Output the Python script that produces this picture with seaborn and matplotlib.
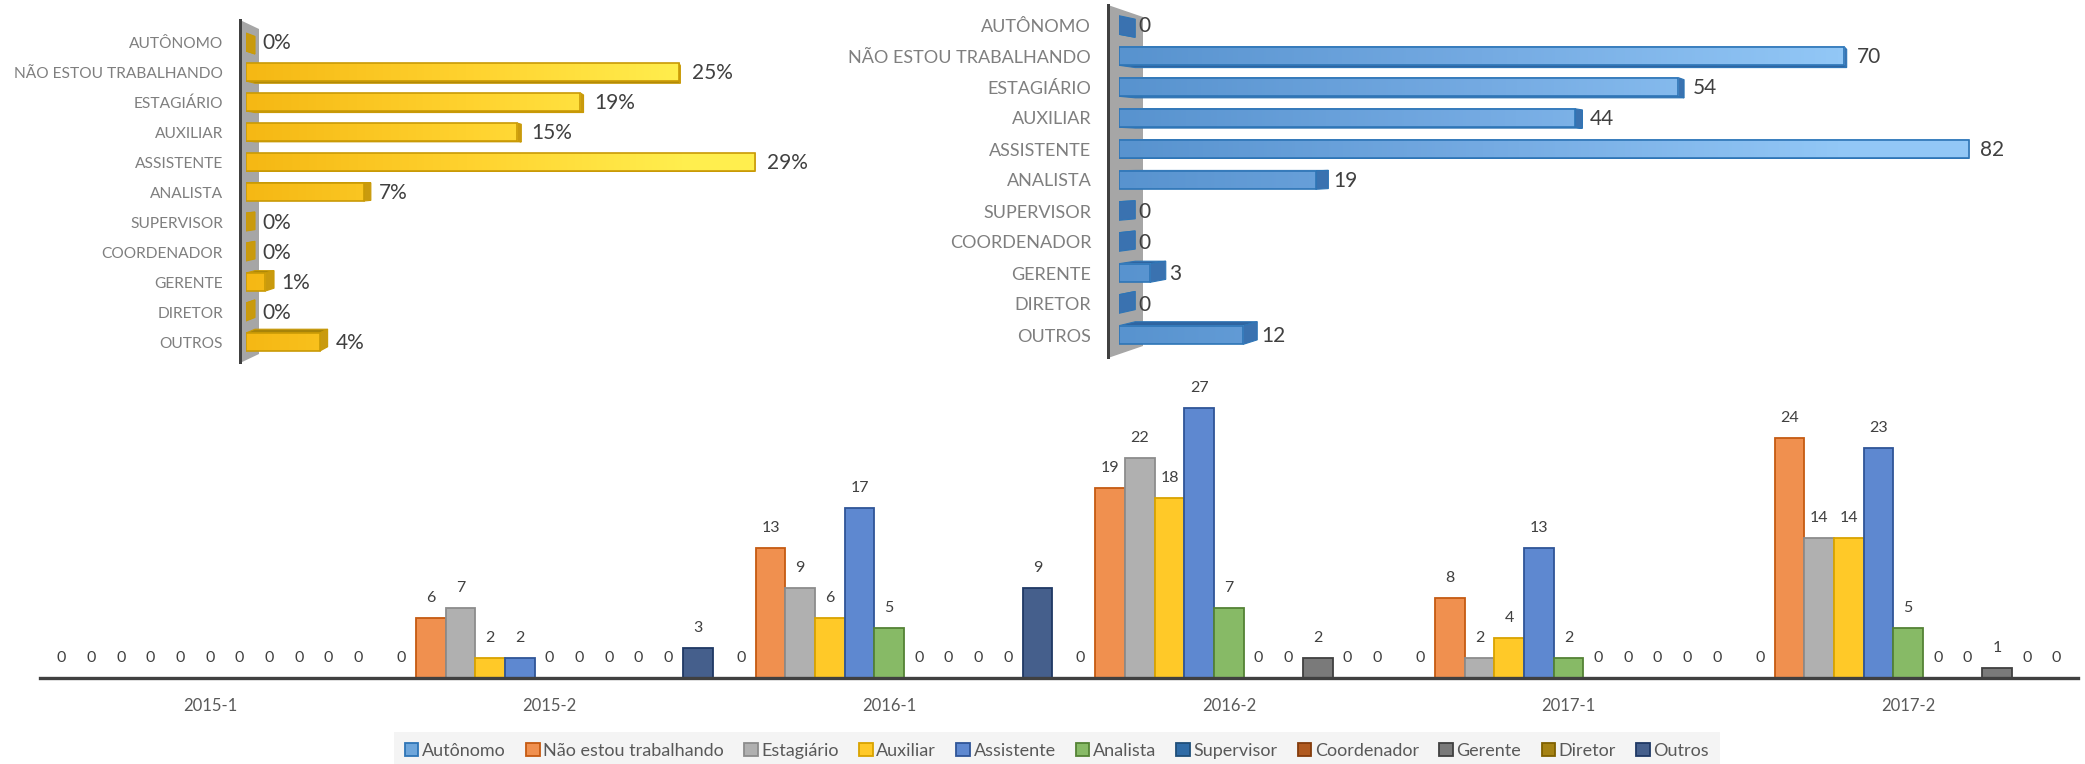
import numpy as np
import pandas as pd
import matplotlib
matplotlib.use("Agg")
import matplotlib.pyplot as plt
import seaborn as sns
from matplotlib.patches import Polygon, Patch
from matplotlib.colors import LinearSegmentedColormap, Normalize

# ---------------- data ----------------
categories_top = ['AUTÔNOMO', 'NÃO ESTOU TRABALHANDO', 'ESTAGIÁRIO', 'AUXILIAR',
                  'ASSISTENTE', 'ANALISTA', 'SUPERVISOR', 'COORDENADOR',
                  'GERENTE', 'DIRETOR', 'OUTROS']
pct_values = [0, 24.6, 19.0, 15.4, 28.9, 6.7, 0, 0, 1.1, 0, 4.2]
count_values = [0, 70, 54, 44, 82, 19, 0, 0, 3, 0, 12]

periods = ['2015-1', '2015-2', '2016-1', '2016-2', '2017-1', '2017-2']
legend_categories = ['Autônomo', 'Não estou trabalhando', 'Estagiário', 'Auxiliar',
                     'Assistente', 'Analista', 'Supervisor', 'Coordenador',
                     'Gerente', 'Diretor', 'Outros']
autonomo = [0, 0, 0, 0, 0, 0]
nao_trabalhando = [0, 6, 13, 19, 8, 24]
estagiario = [0, 7, 9, 22, 2, 14]
auxiliar = [0, 2, 6, 18, 4, 14]
assistente = [0, 2, 17, 27, 13, 23]
analista = [0, 0, 5, 7, 2, 5]
supervisor = [0, 0, 0, 0, 0, 0]
coordenador = [0, 0, 0, 0, 0, 0]
gerente = [0, 0, 0, 2, 0, 1]
diretor = [0, 0, 0, 0, 0, 0]
outros = [0, 3, 9, 0, 0, 0]

fills = ['#6EA6DB', '#F0904F', '#B0B0B0', '#FFC928', '#5E88D0', '#87BA66',
         '#2F6BA6', '#B05A20', '#7A7A7A', '#A58213', '#455F8C']
edges = ['#2E75B6', '#C55A11', '#8C8C8C', '#D9A300', '#2F5597', '#548235',
         '#1F4E79', '#843C0C', '#404040', '#7F6000', '#1F3864']

# ---------------- style ----------------
sns.set_style("white")
plt.rcParams['font.family'] = ['Lato', 'DejaVu Sans']

W, H = 2085, 764
fig = plt.figure(figsize=(W / 100, H / 100), dpi=100)
fig.patch.set_facecolor('white')


def px_axes(left, top, width, height):
    return fig.add_axes([left / W, 1 - (top + height) / H, width / W, height / H])


def fig_poly(pts, **kw):
    p = Polygon([(x / W, 1 - y / H) for x, y in pts], closed=True,
                transform=fig.transFigure, **kw)
    fig.add_artist(p)


def draw_3d(ax, values, xmax, labels, grad_cmap, norm_max, edge, side_c, hz_c,
            vp, kx, ky, cat_fs, cat_pad, label_gap, long_extra):
    df = pd.DataFrame({'cat': categories_top, 'val': values})
    sns.barplot(data=df, x='val', y='cat', orient='h', ax=ax, width=0.6,
                color='#ffffff', errorbar=None, saturation=1)
    ax.set_xlim(0, xmax)
    ax.set_ylim(len(categories_top) - 0.5, -0.5)
    ax.patch.set_visible(False)
    T = ax.transData
    Ti = T.inverted()
    vxd, vyd = vp[0], H - vp[1]
    norm = Normalize(0, norm_max)
    cont = ax.containers[0]
    x_origin = T.transform((0, 0))[0]
    x_far = T.transform((xmax, 0))[0]
    for p, lab in zip(cont.patches, labels):
        x0, y0, w, h = p.get_x(), p.get_y(), p.get_width(), p.get_height()
        corners = T.transform([(x0, y0), (x0 + w, y0), (x0 + w, y0 + h), (x0, y0 + h)])
        ys = corners[:, 1]
        top_y, bot_y = ys.max(), ys.min()
        xl, xr = corners[:, 0].min(), corners[:, 0].max()
        FLt, FRt, FRb, FLb = (xl, top_y), (xr, top_y), (xr, bot_y), (xl, bot_y)

        def back(pt):
            return (pt[0] + kx * (vxd - pt[0]), pt[1] + ky * (vyd - pt[1]))
        BLt, BRt, BRb, BLb = back(FLt), back(FRt), back(FRb), back(FLb)
        faces = []
        if vyd > (top_y + bot_y) / 2:
            faces.append(([FLt, FRt, BRt, BLt], hz_c))
        else:
            faces.append(([FLb, FRb, BRb, BLb], hz_c))
        faces.append(([FRt, BRt, BRb, FRb], side_c))
        for pts, c in faces:
            ax.add_patch(Polygon(Ti.transform(pts), closed=True, facecolor=c,
                                 edgecolor=edge, linewidth=0.8, zorder=2))
        if w > 0:
            grad = np.linspace(x0, x0 + w, 80)[None, :]
            ax.imshow(grad, extent=(x0, x0 + w, y0 + h, y0), aspect='auto',
                      cmap=grad_cmap, norm=norm, interpolation='bilinear', zorder=3)
            p.set_facecolor('none')
            p.set_edgecolor(edge)
            p.set_linewidth(1.2)
            p.set_zorder(4)
        else:
            p.set_visible(False)
        # value label placed just after the visible 3D extent of the bar
        frac = (xr - x_origin) / (x_far - x_origin)
        lx = max(xr, BRt[0], BRb[0]) + label_gap + long_extra * frac
        ly = (top_y + bot_y) / 2 - 1
        tx, ty = Ti.transform((lx, ly))
        ax.text(tx, ty, lab, ha='left', va='center', fontsize=15, color='#404040',
                zorder=6)
    ax.set_xlim(0, xmax)
    ax.set_ylim(len(categories_top) - 0.5, -0.5)
    ax.xaxis.set_visible(False)
    ax.set_ylabel('')
    ax.set_xlabel('')
    ax.tick_params(axis='y', length=0, pad=cat_pad, labelsize=cat_fs,
                   labelcolor='#7F7F7F')
    for s in ax.spines.values():
        s.set_visible(False)
    ax.grid(False)


# ---------------- top-left (percent) ----------------
gold_cmap = LinearSegmentedColormap.from_list('gold', ['#F5B814', '#FFD22E', '#FFEE4E'])
fig_poly([(240, 20), (259, 29), (259, 354), (240, 363)], facecolor='#A6A6A6',
         edgecolor='none', zorder=-1)
fig_poly([(238.5, 19), (241.5, 19), (241.5, 364), (238.5, 364)], facecolor='#404040',
         edgecolor='none', zorder=-0.5)
ax1 = px_axes(246, 27, 563.2, 330)
draw_3d(ax1, pct_values, 32, [f'{v:.0f}%' for v in pct_values], gold_cmap, 25,
        '#C99A06', '#C99A0E', '#A88408', vp=(760, 175), kx=0.0175, ky=0.024,
        cat_fs=11.2, cat_pad=16.5, label_gap=7, long_extra=6)

# ---------------- top-right (counts) ----------------
blue_cmap = LinearSegmentedColormap.from_list('blu', ['#5893CF', '#74AAE2', '#92C7F6'])
fig_poly([(1108, 5), (1143, 17), (1143, 346), (1108, 358)], facecolor='#A6A6A6',
         edgecolor='none', zorder=-1)
fig_poly([(1106.5, 4), (1109.5, 4), (1109.5, 359), (1106.5, 359)], facecolor='#404040',
         edgecolor='none', zorder=-0.5)
ax2 = px_axes(1119, 9.5, 932.4, 341)
draw_3d(ax2, count_values, 90, [f'{v:d}' for v in count_values], blue_cmap, 70,
        '#2E75B6', '#3A72B0', '#2F64A0', vp=(1975, 160), kx=0.019, ky=0.024,
        cat_fs=13, cat_pad=20, label_gap=3, long_extra=9)

# ---------------- bottom grouped bars ----------------
series_list = [autonomo, nao_trabalhando, estagiario, auxiliar, assistente, analista,
               supervisor, coordenador, gerente, diretor, outros]
rows = []
for cat, ser in zip(legend_categories, series_list):
    for per, v in zip(periods, ser):
        rows.append((per, cat, v))
df_b = pd.DataFrame(rows, columns=['period', 'category', 'value'])

ax3 = px_axes(40, 378, 2038, 300)
sns.barplot(data=df_b, x='period', y='value', hue='category', order=periods,
            hue_order=legend_categories, palette=dict(zip(legend_categories, fills)),
            width=0.96, errorbar=None, saturation=1, legend=False, ax=ax3)
for i, cont in enumerate(ax3.containers):
    for p in cont.patches:
        p.set_edgecolor(edges[i])
        p.set_linewidth(1.3)
    ax3.bar_label(cont, fmt='{:.0f}', padding=9.5, fontsize=11.5, color='#404040')
ax3.set_xlim(-0.5, len(periods) - 0.5)
ax3.set_ylim(0, 30)
ax3.patch.set_visible(False)
ax3.yaxis.set_visible(False)
ax3.set_xlabel('')
ax3.set_ylabel('')
for k in ['top', 'left', 'right']:
    ax3.spines[k].set_visible(False)
ax3.spines['bottom'].set_color('#404040')
ax3.spines['bottom'].set_linewidth(2.4)
ax3.spines['bottom'].set_zorder(5)
ax3.tick_params(axis='x', length=0, pad=14.5, labelsize=12, labelcolor='#595959')
ax3.grid(False)

handles = [Patch(facecolor=f, edgecolor=e, linewidth=1.3) for f, e in zip(fills, edges)]
leg = fig.legend(handles, legend_categories, loc='center',
                 bbox_to_anchor=(1057 / W, 1 - 751 / H), ncol=11, frameon=True,
                 fancybox=False, fontsize=13, handlelength=0.75, handleheight=0.75,
                 handletextpad=0.2, columnspacing=1.12, borderpad=0.6,
                 labelcolor='#595959')
leg.get_frame().set_facecolor('#F2F2F2')
leg.get_frame().set_edgecolor('none')

fig.savefig('out.png', dpi=100, facecolor='white')
